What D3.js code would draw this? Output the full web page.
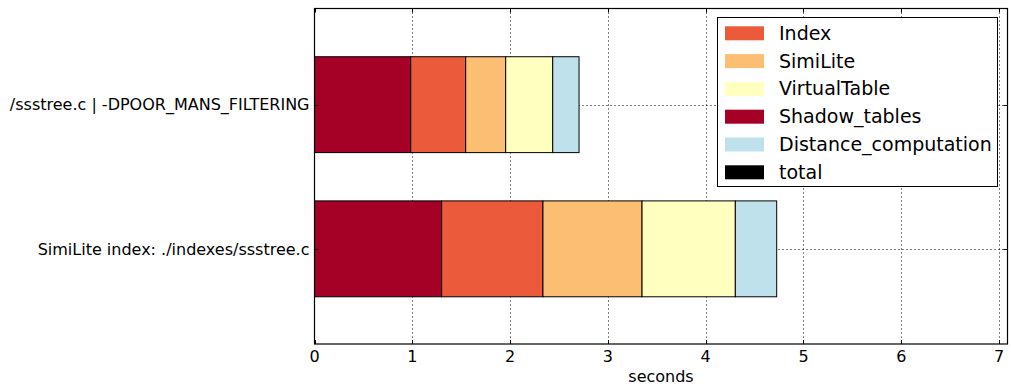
<!DOCTYPE html>
<html><head><meta charset="utf-8">
<script src="https://cdn.jsdelivr.net/npm/d3@7"></script>
<style>body{margin:0;background:#fff}svg{display:block;font-family:"DejaVu Sans",sans-serif}</style>
</head><body><svg id="c" width="1011" height="389"></svg>
<script>
const categories = ["SimiLite index: ./indexes/ssstree.c", "/ssstree.c | -DPOOR_MANS_FILTERING"];
const shadowTables = [1.30, 0.984];
const indexTime = [1.036, 0.562];
const simiLite = [1.013, 0.409];
const virtualTable = [0.954, 0.481];
const distanceComp = [0.423, 0.269];
const xTicks = [0, 1, 2, 3, 4, 5, 6, 7];
const legendNames = ["Index", "SimiLite", "VirtualTable", "Shadow_tables", "Distance_computation", "total"];
const legendColors = ["#ec5a3c", "#fcbe73", "#ffffbf", "#a50026", "#bee1ec", "#000000"];

const series = [
  {name: "Shadow_tables", values: shadowTables, color: "#a50026"},
  {name: "Index", values: indexTime, color: "#ec5a3c"},
  {name: "SimiLite", values: simiLite, color: "#fcbe73"},
  {name: "VirtualTable", values: virtualTable, color: "#ffffbf"},
  {name: "Distance_computation", values: distanceComp, color: "#bee1ec"}
];

const L = 314.5, R = 1007.5, T = 8.5, B = 344;
const x = d3.scaleLinear().domain([0, 7.086]).range([L, R]);
const y = d3.scaleLinear().domain([-0.66, 1.667]).range([B, T]);
const barH = y(0) - y(0.665);

const svg = d3.select("#c");

// grid
const g = svg.append("g");
g.selectAll("line.vx").data(xTicks.filter(t => t > 0)).enter().append("line")
  .attr("x1", d => Math.round(x(d)) + 0.5).attr("x2", d => Math.round(x(d)) + 0.5)
  .attr("y1", T).attr("y2", B)
  .attr("stroke", "#000").attr("stroke-width", 1).attr("stroke-dasharray", "1,3");
g.selectAll("line.hy").data(categories).enter().append("line")
  .attr("x1", L).attr("x2", R)
  .attr("y1", (d, i) => Math.round(y(i)) + 0.5).attr("y2", (d, i) => Math.round(y(i)) + 0.5)
  .attr("stroke", "#000").attr("stroke-width", 1).attr("stroke-dasharray", "1,3");

// stacked bars
const starts = categories.map(() => 0);
series.forEach(s => {
  svg.append("g").selectAll("rect").data(s.values).enter().append("rect")
    .attr("x", (d, i) => x(starts[i]))
    .attr("y", (d, i) => y(i) - barH / 2)
    .attr("width", (d, i) => x(starts[i] + d) - x(starts[i]))
    .attr("height", barH)
    .attr("fill", s.color).attr("stroke", "#000").attr("stroke-width", 1);
  s.values.forEach((v, i) => starts[i] += v);
});

// axes frame
svg.append("rect").attr("x", L).attr("y", T).attr("width", R - L).attr("height", B - T)
  .attr("fill", "none").attr("stroke", "#000").attr("stroke-width", 1.2);

// x ticks (inward, top and bottom)
const xt = svg.append("g");
xTicks.forEach(t => {
  const px = Math.round(x(t)) + 0.5;
  xt.append("line").attr("x1", px).attr("x2", px).attr("y1", B).attr("y2", B - 4).attr("stroke", "#000");
  xt.append("line").attr("x1", px).attr("x2", px).attr("y1", T).attr("y2", T + 4).attr("stroke", "#000");
  xt.append("text").attr("x", x(t)).attr("y", 362).attr("text-anchor", "middle")
    .attr("font-size", 16).text(t);
});
// y ticks
categories.forEach((c, i) => {
  const py = Math.round(y(i)) + 0.5;
  svg.append("line").attr("x1", L).attr("x2", L + 4).attr("y1", py).attr("y2", py).attr("stroke", "#000");
  svg.append("line").attr("x1", R).attr("x2", R - 4).attr("y1", py).attr("y2", py).attr("stroke", "#000");
  svg.append("text").attr("x", 309.5).attr("y", y(i) + 5.8).attr("text-anchor", "end")
    .attr("font-size", 16).text(c);
});

svg.append("text").attr("x", (L + R) / 2).attr("y", 382).attr("text-anchor", "middle")
  .attr("font-size", 16).text("seconds");

// legend
const lg = svg.append("g");
lg.append("rect").attr("x", 717.5).attr("y", 17.5).attr("width", 280).attr("height", 169)
  .attr("fill", "#fff").attr("stroke", "#000").attr("stroke-width", 1);
legendNames.forEach((n, i) => {
  const cy = 33.3 + i * 27.8;
  lg.append("rect").attr("x", 725).attr("y", cy - 7).attr("width", 39).attr("height", 14)
    .attr("fill", legendColors[i]);
  lg.append("text").attr("x", 779).attr("y", cy + 6.5).attr("font-size", 19).text(n);
});
</script></body></html>
